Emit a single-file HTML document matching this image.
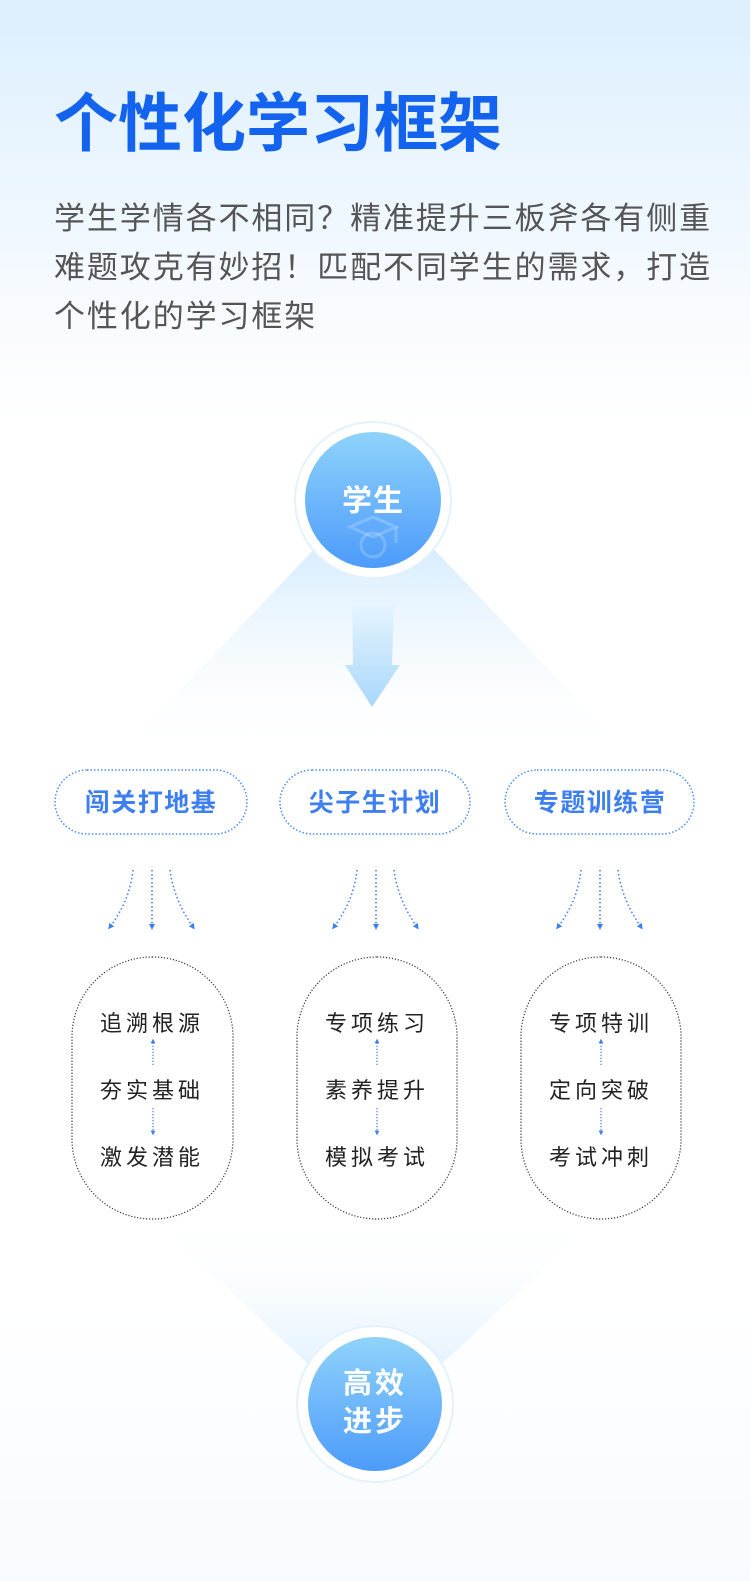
<!DOCTYPE html>
<html><head><meta charset="utf-8"><style>
html,body{margin:0;padding:0;}
body{width:750px;height:1581px;position:relative;overflow:hidden;background:linear-gradient(180deg,#dceffd 0px,#f3f9ff 260px,#ffffff 420px,#ffffff 1300px,#f7fbff 1581px);font-family:"Liberation Sans","Noto Sans CJK SC",sans-serif;}
.t{position:absolute;left:54px;top:84px;font-size:64px;font-weight:bold;color:#1363ee;letter-spacing:0px;line-height:80px;white-space:nowrap;}
.p{position:absolute;left:54px;top:194px;font-size:31px;color:#555;line-height:49px;letter-spacing:1.9px;white-space:nowrap;}
svg{position:absolute;left:0;top:0;}
</style></head><body>
<div class="t">个性化学习框架</div>
<div class="p">学生学情各不相同？精准提升三板斧各有侧重<br>难题攻克有妙招！匹配不同学生的需求，打造<br>个性化的学习框架</div>
<svg width="750" height="1581" viewBox="0 0 750 1581" font-family="Liberation Sans, Noto Sans CJK SC, sans-serif">
<defs>
<linearGradient id="beam" x1="0" y1="0" x2="0" y2="1"><stop offset="0" stop-color="#d6ecfd"/><stop offset="1" stop-color="#ffffff" stop-opacity="0.2"/></linearGradient>
<linearGradient id="beam2" x1="0" y1="1" x2="0" y2="0"><stop offset="0" stop-color="#e1f1fd"/><stop offset="1" stop-color="#ffffff" stop-opacity="0.2"/></linearGradient>
<linearGradient id="arr" x1="0" y1="0" x2="0" y2="1"><stop offset="0" stop-color="#e6f4fe"/><stop offset="1" stop-color="#a8d8fb"/></linearGradient>
<linearGradient id="circ" x1="0" y1="0" x2="0" y2="1"><stop offset="0" stop-color="#8fd3fb"/><stop offset="1" stop-color="#4d9bfb"/></linearGradient>
<marker id="ah" viewBox="0 0 10 10" refX="5" refY="5" markerWidth="4" markerHeight="4" orient="auto"><path d="M0,0 L10,5 L0,10 z" fill="#3d7ff0"/></marker>
</defs>
<g transform="translate(0,5)">
<polygon points="318,540 430,540 620,740 128,740" fill="url(#beam)"/>
<path d="M352,600 L394,600 L392,660 L400,660 L372,702 L345,660 L353,660 z" fill="url(#arr)"/>
<polygon points="165,1225 585,1225 430,1370 320,1370" fill="url(#beam2)"/>
<circle cx="373" cy="495" r="78" fill="#ffffff" stroke="#e3f2fd" stroke-width="2"/>
<circle cx="373" cy="495" r="68" fill="url(#circ)"/>
<text x="373" y="506" font-size="30" font-weight="bold" fill="#fff" text-anchor="middle" letter-spacing="1">学生</text>
<g fill="none" stroke="#ffffff" stroke-opacity="0.2" stroke-width="3"><path d="M350,522 L373,512 L396,522 L373,532 z"/><circle cx="373" cy="540" r="12"/><path d="M396,522 L396,538"/></g>
<g transform="translate(0,4)">
<circle cx="375" cy="1395" r="78" fill="#ffffff" stroke="#e3f2fd" stroke-width="2"/>
<circle cx="375" cy="1395" r="67" fill="url(#circ)"/>
<text x="375" y="1384" font-size="29" font-weight="bold" fill="#fff" text-anchor="middle" letter-spacing="3">高效</text>
<text x="375" y="1422" font-size="29" font-weight="bold" fill="#fff" text-anchor="middle" letter-spacing="3">进步</text>
</g>
<g fill="#fff" stroke="#4a8ef2" stroke-width="1.5" stroke-dasharray="1.5 2">
<rect x="55" y="765" width="192" height="64" rx="32"/>
<rect x="280" y="765" width="190" height="64" rx="32"/>
<rect x="505" y="765" width="189" height="64" rx="32"/>
</g>
<g font-size="25" font-weight="bold" fill="#3d7ff0" text-anchor="middle" letter-spacing="1.5">
<text x="151" y="806">闯关打地基</text>
<text x="375" y="806">尖子生计划</text>
<text x="600" y="806">专题训练营</text>
</g>
<g fill="none" stroke="#3d7ff0" stroke-width="1.5" stroke-dasharray="1.5 2.5" marker-end="url(#ah)">
<path d="M133,865 Q130,895 110,922"/><path d="M152,865 L152,922"/><path d="M170,865 Q174,895 193,922"/>
<path d="M357,865 Q354,895 334,922"/><path d="M376,865 L376,922"/><path d="M394,865 Q398,895 417,922"/>
<path d="M581,865 Q578,895 558,922"/><path d="M600,865 L600,922"/><path d="M618,865 Q622,895 641,922"/>
</g>
<g fill="#fff" stroke="#333" stroke-width="1.2" stroke-dasharray="1.2 1.8">
<rect x="72" y="952" width="161" height="262" rx="80"/>
<rect x="297" y="952" width="160" height="262" rx="80"/>
<rect x="521" y="952" width="160" height="262" rx="80"/>
</g>
<g font-size="22" fill="#222" letter-spacing="4">
<text x="100" y="1026">追溯根源</text><text x="100" y="1093">夯实基础</text><text x="100" y="1160">激发潜能</text>
<text x="325" y="1026">专项练习</text><text x="325" y="1093">素养提升</text><text x="325" y="1160">模拟考试</text>
<text x="549" y="1026">专项特训</text><text x="549" y="1093">定向突破</text><text x="549" y="1160">考试冲刺</text>
</g>
<g fill="none" stroke="#3d7ff0" stroke-width="1.2" stroke-dasharray="1.2 1.8" marker-end="url(#ah)">
<path d="M153,1060 L153,1036"/><path d="M153,1103 L153,1128"/>
<path d="M377,1060 L377,1036"/><path d="M377,1103 L377,1128"/>
<path d="M601,1060 L601,1036"/><path d="M601,1103 L601,1128"/>
</g>
</g>
</svg>
</body></html>
